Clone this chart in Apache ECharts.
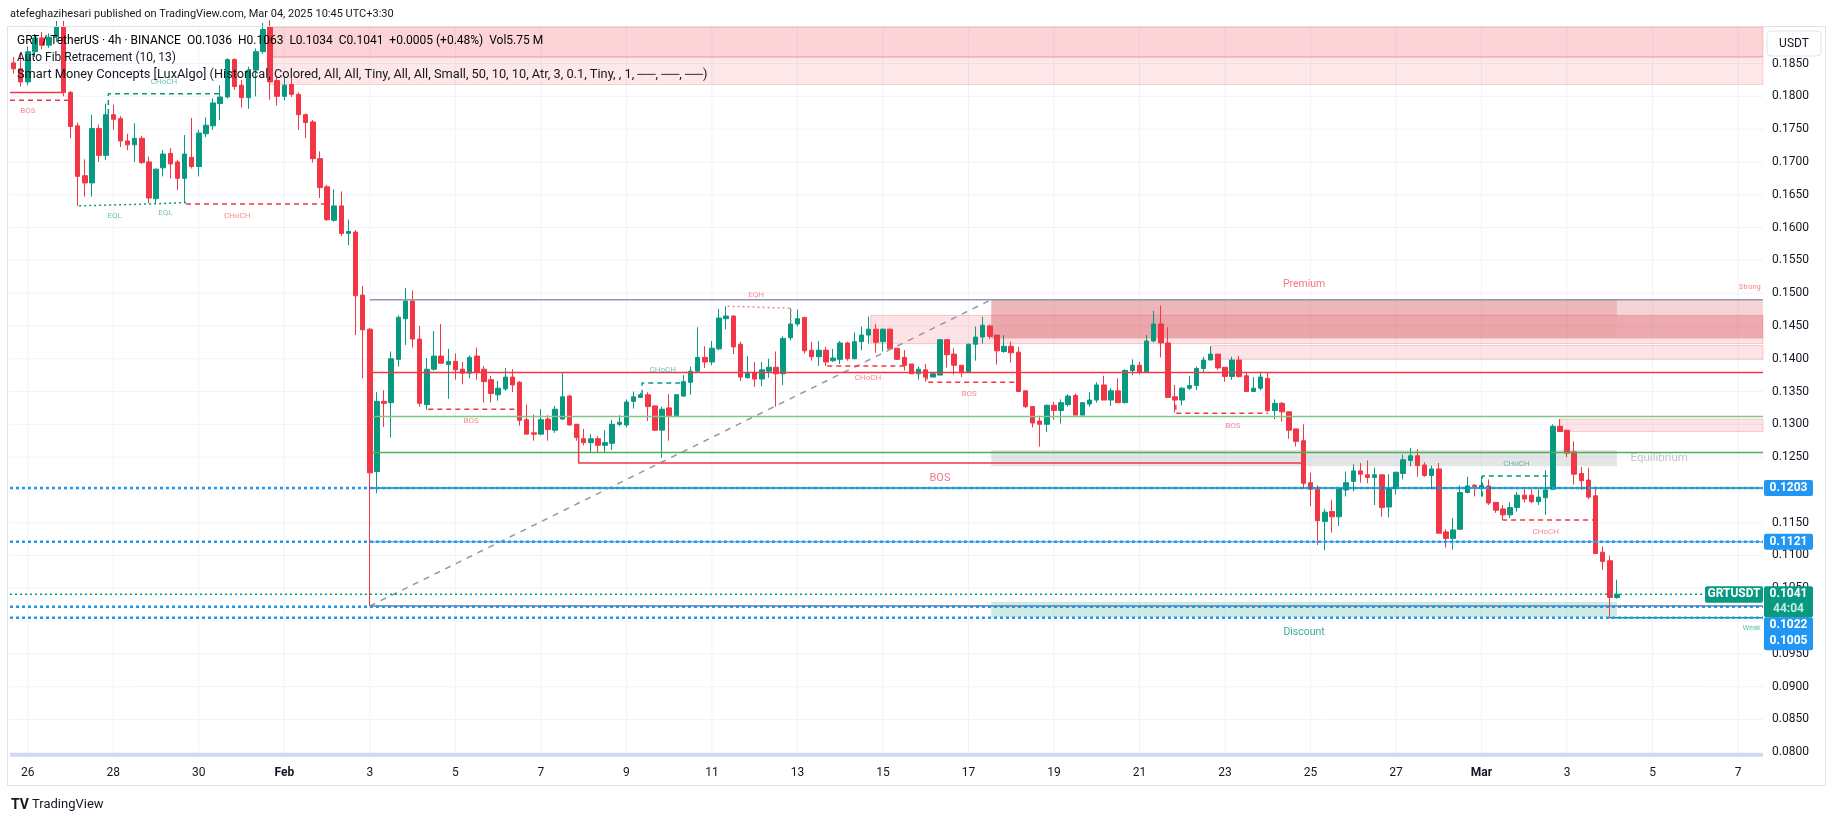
<!DOCTYPE html>
<html>
<head>
<meta charset="utf-8">
<script src="https://cdn.jsdelivr.net/npm/echarts@6/dist/echarts.min.js"></script>
<style>
  html, body { margin: 0; padding: 0; background: #fff; }
  #chart { width: 1835px; height: 821px; }
</style>
</head>
<body>
<div id="chart"></div>
<script>
const ohlc = [
  [0.1851,0.1860,0.1835,0.1842],[0.1842,0.1866,0.1815,0.1822],[0.1822,0.1876,0.1817,0.1868],[0.1868,0.1895,0.1860,0.1889],
  [0.1889,0.1898,0.1872,0.1878],[0.1878,0.1896,0.1874,0.1890],[0.1890,0.1915,0.1883,0.1906],[0.1906,0.1915,0.1800,0.1806],
  [0.1806,0.1808,0.1736,0.1754],[0.1755,0.1760,0.1633,0.1678],[0.1679,0.1704,0.1647,0.1668],[0.1668,0.1772,0.1647,0.1751],
  [0.1751,0.1757,0.1700,0.1710],[0.1710,0.1789,0.1703,0.1772],[0.1772,0.1787,0.1749,0.1765],[0.1766,0.1770,0.1723,0.1732],
  [0.1732,0.1743,0.1718,0.1726],[0.1726,0.1759,0.1700,0.1736],[0.1736,0.1740,0.1697,0.1699],[0.1700,0.1708,0.1637,0.1645],
  [0.1644,0.1690,0.1637,0.1689],[0.1691,0.1718,0.1678,0.1712],[0.1713,0.1721,0.1675,0.1697],[0.1700,0.1703,0.1657,0.1675],
  [0.1675,0.1741,0.1638,0.1712],[0.1707,0.1767,0.1690,0.1693],[0.1693,0.1749,0.1678,0.1744],[0.1743,0.1768,0.1738,0.1756],
  [0.1755,0.1797,0.1749,0.1790],[0.1789,0.1817,0.1764,0.1799],[0.1799,0.1858,0.1797,0.1856],[0.1856,0.1858,0.1810,0.1815],
  [0.1817,0.1825,0.1783,0.1798],[0.1798,0.1845,0.1781,0.1840],[0.1840,0.1873,0.1800,0.1868],[0.1868,0.1912,0.1865,0.1902],
  [0.1906,0.1916,0.1795,0.1822],[0.1824,0.1828,0.1786,0.1800],[0.1800,0.1830,0.1794,0.1817],[0.1818,0.1830,0.1799,0.1803],
  [0.1803,0.1806,0.1749,0.1772],[0.1772,0.1774,0.1736,0.1760],[0.1761,0.1764,0.1699,0.1705],[0.1705,0.1716,0.1645,0.1661],
  [0.1662,0.1665,0.1610,0.1612],[0.1611,0.1658,0.1609,0.1633],[0.1633,0.1655,0.1587,0.1591],[0.1591,0.1612,0.1573,0.1594],
  [0.1593,0.1596,0.1436,0.1496],[0.1497,0.1511,0.1370,0.1444],[0.1445,0.1447,0.1023,0.1226],[0.1228,0.1349,0.1195,0.1335],
  [0.1335,0.1352,0.1296,0.1332],[0.1333,0.1411,0.1280,0.1400],[0.1399,0.1466,0.1388,0.1463],[0.1461,0.1508,0.1421,0.1488],
  [0.1488,0.1504,0.1417,0.1430],[0.1430,0.1450,0.1327,0.1332],[0.1330,0.1401,0.1322,0.1384],[0.1384,0.1442,0.1382,0.1404],
  [0.1404,0.1453,0.1393,0.1393],[0.1391,0.1415,0.1339,0.1396],[0.1396,0.1408,0.1368,0.1383],[0.1384,0.1395,0.1361,0.1378],
  [0.1378,0.1405,0.1370,0.1402],[0.1404,0.1417,0.1368,0.1379],[0.1384,0.1389,0.1333,0.1365],[0.1368,0.1374,0.1333,0.1347],
  [0.1345,0.1366,0.1336,0.1355],[0.1354,0.1386,0.1351,0.1372],[0.1372,0.1384,0.1349,0.1360],[0.1364,0.1366,0.1298,0.1306],
  [0.1307,0.1330,0.1285,0.1285],[0.1287,0.1315,0.1275,0.1285],[0.1285,0.1323,0.1284,0.1307],[0.1308,0.1314,0.1275,0.1292],
  [0.1291,0.1328,0.1287,0.1323],[0.1308,0.1379,0.1307,0.1342],[0.1343,0.1345,0.1298,0.1299],[0.1300,0.1300,0.1275,0.1280],
  [0.1278,0.1293,0.1268,0.1272],[0.1272,0.1285,0.1257,0.1278],[0.1278,0.1282,0.1257,0.1268],[0.1268,0.1291,0.1258,0.1272],
  [0.1271,0.1307,0.1261,0.1300],[0.1300,0.1314,0.1297,0.1303],[0.1299,0.1338,0.1295,0.1334],[0.1335,0.1350,0.1324,0.1342],
  [0.1341,0.1348,0.1341,0.1345],[0.1345,0.1349,0.1305,0.1327],[0.1328,0.1329,0.1290,0.1291],[0.1291,0.1327,0.1249,0.1323],
  [0.1325,0.1346,0.1275,0.1313],[0.1313,0.1346,0.1311,0.1345],[0.1343,0.1375,0.1342,0.1365],[0.1364,0.1388,0.1345,0.1381],
  [0.1381,0.1448,0.1380,0.1402],[0.1402,0.1419,0.1386,0.1395],[0.1395,0.1427,0.1390,0.1416],[0.1415,0.1476,0.1413,0.1462],
  [0.1461,0.1480,0.1445,0.1465],[0.1465,0.1466,0.1407,0.1418],[0.1422,0.1426,0.1366,0.1372],[0.1371,0.1404,0.1370,0.1379],
  [0.1379,0.1395,0.1357,0.1369],[0.1369,0.1395,0.1358,0.1383],[0.1381,0.1400,0.1371,0.1387],[0.1387,0.1411,0.1327,0.1377],
  [0.1377,0.1434,0.1360,0.1431],[0.1432,0.1477,0.1428,0.1453],[0.1453,0.1475,0.1449,0.1461],[0.1463,0.1463,0.1408,0.1412],
  [0.1413,0.1426,0.1397,0.1403],[0.1403,0.1427,0.1389,0.1413],[0.1413,0.1418,0.1389,0.1395],[0.1397,0.1415,0.1395,0.1401],
  [0.1399,0.1427,0.1392,0.1424],[0.1424,0.1426,0.1397,0.1400],[0.1400,0.1440,0.1399,0.1426],[0.1426,0.1449,0.1413,0.1436],
  [0.1436,0.1464,0.1423,0.1445],[0.1445,0.1453,0.1409,0.1425],[0.1426,0.1446,0.1411,0.1445],[0.1445,0.1446,0.1413,0.1415],
  [0.1416,0.1416,0.1398,0.1399],[0.1402,0.1413,0.1382,0.1390],[0.1392,0.1392,0.1377,0.1377],[0.1377,0.1388,0.1368,0.1384],
  [0.1383,0.1392,0.1365,0.1372],[0.1372,0.1379,0.1372,0.1377],[0.1375,0.1430,0.1375,0.1429],[0.1429,0.1430,0.1386,0.1406],
  [0.1407,0.1416,0.1376,0.1390],[0.1390,0.1390,0.1372,0.1380],[0.1380,0.1423,0.1379,0.1422],[0.1422,0.1449,0.1397,0.1433],
  [0.1433,0.1464,0.1423,0.1451],[0.1450,0.1452,0.1430,0.1434],[0.1436,0.1436,0.1391,0.1412],[0.1411,0.1436,0.1409,0.1419],
  [0.1419,0.1426,0.1394,0.1409],[0.1410,0.1418,0.1350,0.1350],[0.1351,0.1351,0.1325,0.1327],[0.1327,0.1328,0.1295,0.1302],
  [0.1305,0.1313,0.1266,0.1300],[0.1300,0.1330,0.1288,0.1329],[0.1329,0.1334,0.1307,0.1321],[0.1321,0.1338,0.1301,0.1333],
  [0.1330,0.1346,0.1327,0.1343],[0.1344,0.1347,0.1314,0.1314],[0.1314,0.1333,0.1314,0.1333],[0.1331,0.1349,0.1327,0.1337],
  [0.1337,0.1364,0.1333,0.1360],[0.1360,0.1374,0.1337,0.1337],[0.1337,0.1355,0.1328,0.1351],[0.1351,0.1370,0.1333,0.1333],
  [0.1333,0.1384,0.1332,0.1382],[0.1382,0.1399,0.1375,0.1390],[0.1390,0.1395,0.1376,0.1380],[0.1380,0.1436,0.1379,0.1427],
  [0.1427,0.1473,0.1425,0.1453],[0.1453,0.1481,0.1402,0.1424],[0.1424,0.1448,0.1341,0.1341],[0.1342,0.1360,0.1318,0.1337],
  [0.1337,0.1357,0.1329,0.1355],[0.1355,0.1374,0.1352,0.1359],[0.1359,0.1388,0.1352,0.1385],[0.1385,0.1403,0.1380,0.1398],
  [0.1398,0.1419,0.1398,0.1407],[0.1407,0.1407,0.1383,0.1386],[0.1387,0.1387,0.1365,0.1373],[0.1373,0.1403,0.1368,0.1398],
  [0.1398,0.1404,0.1371,0.1373],[0.1374,0.1379,0.1350,0.1350],[0.1350,0.1372,0.1350,0.1355],[0.1355,0.1380,0.1352,0.1372],
  [0.1370,0.1379,0.1319,0.1321],[0.1321,0.1338,0.1308,0.1332],[0.1332,0.1334,0.1304,0.1319],[0.1319,0.1319,0.1278,0.1291],
  [0.1293,0.1293,0.1266,0.1274],[0.1275,0.1300,0.1202,0.1210],[0.1211,0.1226,0.1175,0.1201],[0.1201,0.1207,0.1116,0.1153],
  [0.1152,0.1171,0.1108,0.1166],[0.1167,0.1185,0.1135,0.1159],[0.1159,0.1202,0.1145,0.1202],[0.1200,0.1228,0.1190,0.1211],
  [0.1213,0.1239,0.1198,0.1229],[0.1229,0.1241,0.1211,0.1224],[0.1223,0.1245,0.1210,0.1219],[0.1219,0.1234,0.1177,0.1223],
  [0.1223,0.1223,0.1159,0.1173],[0.1174,0.1224,0.1158,0.1202],[0.1202,0.1227,0.1193,0.1227],[0.1225,0.1254,0.1216,0.1246],
  [0.1245,0.1264,0.1236,0.1252],[0.1252,0.1262,0.1220,0.1237],[0.1238,0.1242,0.1220,0.1222],[0.1222,0.1237,0.1201,0.1232],
  [0.1232,0.1241,0.1134,0.1134],[0.1136,0.1140,0.1112,0.1126],[0.1126,0.1157,0.1109,0.1139],[0.1140,0.1207,0.1139,0.1196],
  [0.1196,0.1220,0.1195,0.1206],[0.1207,0.1209,0.1190,0.1205],[0.1202,0.1221,0.1190,0.1207],[0.1206,0.1216,0.1177,0.1180],
  [0.1181,0.1181,0.1165,0.1169],[0.1171,0.1177,0.1154,0.1162],[0.1162,0.1181,0.1157,0.1173],[0.1173,0.1197,0.1167,0.1192],
  [0.1192,0.1201,0.1181,0.1186],[0.1192,0.1201,0.1180,0.1182],[0.1182,0.1201,0.1177,0.1189],[0.1188,0.1230,0.1162,0.1200],
  [0.1201,0.1300,0.1200,0.1297],[0.1297,0.1308,0.1289,0.1289],[0.1291,0.1291,0.1250,0.1256],[0.1258,0.1274,0.1208,0.1224],
  [0.1225,0.1235,0.1200,0.1214],[0.1215,0.1234,0.1186,0.1189],[0.1191,0.1205,0.1103,0.1103],[0.1105,0.1114,0.1078,0.1091],
  [0.1092,0.1100,0.1005,0.1036],[0.1036,0.1063,0.1034,0.1041]
];

// time axis: 246 bar slots, first label on slot 2, one label every 2 days (12 bars)
const slotCount = 246;
const firstLabelSlot = 2;
const slotsPerLabel = 12;
const xTickLabels = ['26','28','30','Feb','3','5','7','9','11','13','15','17','19','21','23','25','27','Mar','3','5','7'];
const monthLabels = ['Feb', 'Mar'];
const priceTicks = [0.0800,0.0850,0.0900,0.0950,0.1000,0.1050,0.1100,0.1150,0.1200,0.1250,0.1300,
                    0.1350,0.1400,0.1450,0.1500,0.1550,0.1600,0.1650,0.1700,0.1750,0.1800,0.1850];
const priceMin = 0.07928, priceMax = 0.19057;

// price lines with tags on the scale
const bluePriceLines = [0.1203, 0.1121, 0.1022, 0.1005];
const lastPrice = 0.1041;

// Smart Money Concepts drawings, [slot, price] points
const solidRedLines = [
  [[-0.5, 0.1806], [6.9, 0.1806]],
  [[50.4, 0.1379], [245.5, 0.1379]],
  [[79.3, 0.1300], [79.3, 0.1241], [180.8, 0.1241]]
];
const dashedRedLines = [
  [[-0.5, 0.1794], [7.9, 0.1794]],
  [[24.2, 0.1636], [44.4, 0.1636]],
  [[58.2, 0.1323], [70.8, 0.1323]],
  [[114.2, 0.1389], [125.5, 0.1389]],
  [[128.2, 0.1376], [128.2, 0.1364], [140.8, 0.1364]],
  [[163.1, 0.1330], [163.1, 0.1317], [176.0, 0.1317]],
  [[209.0, 0.1169], [209.0, 0.1154], [221.8, 0.1154]]
];
const dashedTealLines = [
  [[13.3, 0.1773], [13.3, 0.1804], [29.3, 0.1804]],
  [[88.2, 0.1345], [88.2, 0.1363], [93.6, 0.1363]],
  [[206.1, 0.1190], [206.1, 0.1221], [215.9, 0.1221]]
];
const eqlLine = [[9.2, 0.1633], [19.4, 0.1636], [24.2, 0.1638]];
const eqhLine = [[100.2, 0.1480], [109.1, 0.1477], [109.1, 0.1456]];
const trailingTop = [[50, 0.1490], [245.5, 0.1490]];
const lightGreenLine = [[50.4, 0.1312], [245.5, 0.1312]];
const greenLine = [[50.4, 0.1257], [245.5, 0.1257]];
const tealLine = [[50, 0.1203], [245.5, 0.1203]];
const lightBlueLine = [[50, 0.1121], [245.5, 0.1121]];
const grayLine = [[50, 0.1023], [245.5, 0.1023]];
const weakLowLine = [[224, 0.1005], [245.5, 0.1005]];
const fibTrend = [[50, 0.1023], [137.2, 0.1490]];

// zones: [fromSlot, toSlot, lowPrice, highPrice]
const supplyTop = [35.9, 245.5, 0.1860, 0.1920];
const supplyTopLower = [35.9, 245.5, 0.1818, 0.1860];
const premiumZone = [137.2, 225, 0.1431, 0.1490];
const orderBlock1 = [120.3, 245.5, 0.1423, 0.1466];
const orderBlock1Right = [225, 245.5, 0.1431, 0.1466];
const strongHighZone = [225, 245.5, 0.1466, 0.1490];
const orderBlock2 = [168.1, 245.5, 0.1399, 0.1420];
const orderBlock3 = [217.0, 245.5, 0.1289, 0.1308];
const equilibriumZone = [137.2, 225, 0.1236, 0.1261];
const discountZone = [137.2, 225, 0.1006, 0.1029];
const bottomBand = [-0.5, 245.5, 0.0793, 0.0799];

// text marks: [slot, price, text]
const redTags = [[2.0,0.1778,'BOS'],[31.4,0.1618,'CHoCH'],[64.2,0.1305,'BOS'],[104.2,0.1497,'EQH'],
                 [119.9,0.1371,'CHoCH'],[134.1,0.1346,'BOS'],[171.1,0.1298,'BOS'],[215.0,0.1136,'CHoCH']];
const tealTags = [[14.2,0.1618,'EQL'],[21.3,0.1622,'EQL'],[21.1,0.1822,'CHoCH'],[91.1,0.1383,'CHoCH'],[210.9,0.1240,'CHoCH']];
const bigBos = [130.0, 0.1217, 'BOS'];
const premiumText = [181.1, 0.1513, 'Premium'];
const discountText = [181.1, 0.0983, 'Discount'];
const equilibriumText = [226.7, 0.1249, 'Equilibrium'];
const strongText = [245.4, 0.1509, 'Strong'];
const weakText = [245.4, 0.0989, 'Weak'];

const UP = '#089981', DOWN = '#f23645';
const FONT = 'Roboto, "Noto Sans", sans-serif';
const LEFT_EDGE = -0.5, RIGHT_EDGE = slotCount - 0.5;

const chart = echarts.init(document.getElementById('chart'));

const categories = Array.from({ length: slotCount }, (_, i) => String(i));
const isLabelSlot = i => i >= firstLabelSlot && (i - firstLabelSlot) % slotsPerLabel === 0;
const labelSlots = xTickLabels.map((_, k) => firstLabelSlot + k * slotsPerLabel);

function lineSeries(points, color, width, type, z) {
  return {
    type: 'line', xAxisIndex: 1, yAxisIndex: 0, data: points, symbol: 'none',
    silent: true, animation: false, z: z == null ? 4 : z,
    lineStyle: { color, width, type }
  };
}

function zone(z, color, border) {
  return [
    { coord: [z[0], z[3]], itemStyle: { color, borderColor: border || 'transparent', borderWidth: border ? 1 : 0 } },
    { coord: [z[1], z[2]] }
  ];
}

function textSeries(items, color, size, pos) {
  return {
    type: 'scatter', xAxisIndex: 1, yAxisIndex: 0, silent: true, animation: false, z: 6,
    symbolSize: 1, itemStyle: { color: 'rgba(0,0,0,0)' },
    data: items.map(t => ({ value: [t[0], t[1]], name: t[2] })),
    label: {
      show: true, position: pos || 'inside', distance: 1,
      formatter: p => p.name, color, fontSize: size, fontFamily: FONT
    }
  };
}

const gridLines = priceTicks.map(v => lineSeries([[LEFT_EDGE, v], [RIGHT_EDGE, v]], '#f0f3fa', 1, 'solid', 0))
  .concat(labelSlots.map(s => lineSeries([[s, priceMin], [s, priceMax]], '#f0f3fa', 1, 'solid', 0)));

const series = [
  ...gridLines,
  // zones
  {
    type: 'line', xAxisIndex: 1, yAxisIndex: 0, data: [[-10, 0]], symbol: 'none', silent: true, z: 1,
    markArea: {
      silent: true, animation: false, label: { show: false },
      data: [
        zone(supplyTop, 'rgba(242,54,69,0.22)', 'rgba(242,54,69,0.25)'),
        zone(supplyTopLower, 'rgba(242,54,69,0.12)', 'rgba(242,54,69,0.2)'),
        zone(orderBlock1, 'rgba(242,54,69,0.14)', 'rgba(242,54,69,0.25)'),
        zone(premiumZone, 'rgba(205,55,65,0.36)'),
        zone(orderBlock1Right, 'rgba(205,55,65,0.33)'),
        zone(strongHighZone, 'rgba(215,55,65,0.22)'),
        zone(orderBlock2, 'rgba(242,54,69,0.13)', 'rgba(242,54,69,0.22)'),
        zone(orderBlock3, 'rgba(242,54,69,0.13)', 'rgba(242,54,69,0.22)'),
        zone(equilibriumZone, 'rgba(120,123,134,0.2)'),
        zone(discountZone, 'rgba(8,153,129,0.2)'),
        zone(bottomBand, '#cfd8f5')
      ]
    }
  },
  // candles
  {
    type: 'candlestick', xAxisIndex: 0, yAxisIndex: 0, silent: true, animation: false, z: 3,
    barWidth: 5,
    data: ohlc.map(([o, h, l, c]) => [o, c, l, h]),
    itemStyle: { color: UP, color0: DOWN, borderColor: UP, borderColor0: DOWN, borderWidth: 1 }
  },
  lineSeries(trailingTop, '#8f95b2', 1.5, 'solid'),
  lineSeries(lightGreenLine, '#81c784', 1.5, 'solid'),
  lineSeries(greenLine, '#4caf50', 1.5, 'solid'),
  lineSeries(tealLine, '#00897b', 1.5, 'solid'),
  lineSeries(lightBlueLine, '#64b5f6', 1.5, 'solid'),
  lineSeries(grayLine, '#787b86', 1.5, 'solid'),
  lineSeries(weakLowLine, '#089981', 1.5, 'solid'),
  lineSeries(fibTrend, '#9598a1', 1.5, [6, 6]),
  lineSeries(eqlLine, '#089981', 1.5, [2, 3]),
  lineSeries(eqhLine, '#f7828c', 1.5, [2, 3]),
  ...solidRedLines.map(p => lineSeries(p, DOWN, 1.5, 'solid')),
  ...dashedRedLines.map(p => lineSeries(p, DOWN, 1.5, [5, 4])),
  ...dashedTealLines.map(p => lineSeries(p, UP, 1.5, [5, 4])),
  // horizontal price lines across the whole pane
  ...bluePriceLines.map(v => lineSeries([[LEFT_EDGE, v], [RIGHT_EDGE, v]], '#2196f3', 2.5, [3, 3], 5)),
  lineSeries([[LEFT_EDGE, lastPrice], [RIGHT_EDGE, lastPrice]], UP, 1.5, [2, 3], 5),
  textSeries(redTags, 'rgba(242,54,69,0.75)', 8),
  textSeries(tealTags, 'rgba(8,153,129,0.75)', 8),
  textSeries([bigBos], 'rgba(242,54,69,0.85)', 11),
  textSeries([premiumText], 'rgba(242,54,69,0.85)', 10.5),
  textSeries([discountText], UP, 10.5),
  textSeries([equilibriumText], '#b2b5be', 11.5, 'right'),
  textSeries([strongText], 'rgba(242,54,69,0.8)', 7.5, 'left'),
  textSeries([weakText], 'rgba(8,153,129,0.8)', 7.5, 'left')
];

chart.setOption({
  animation: false,
  backgroundColor: '#ffffff',
  grid: { left: 10, right: 72, top: 27, bottom: 64 },
  xAxis: [
    {
      type: 'category', data: categories, boundaryGap: true,
      axisLine: { show: false }, axisTick: { show: false }, splitLine: { show: false },
      axisLabel: {
        interval: (i) => isLabelSlot(i),
        margin: 10, color: '#131722', fontSize: 12, fontFamily: FONT,
        formatter: (v) => {
          const s = Number(v);
          if (!isLabelSlot(s)) return '';
          const t = xTickLabels[(s - firstLabelSlot) / slotsPerLabel] || '';
          return monthLabels.includes(t) ? '{m|' + t + '}' : t;
        },
        rich: { m: { fontWeight: 'bold', fontSize: 12, color: '#131722', fontFamily: FONT } }
      }
    },
    { type: 'value', min: LEFT_EDGE, max: RIGHT_EDGE, show: false }
  ],
  yAxis: [{
    type: 'value', position: 'right', min: priceMin, max: priceMax, scale: true,
    axisLine: { show: false },
    axisTick: { show: false, customValues: priceTicks },
    splitLine: { show: false },
    axisLabel: {
      customValues: priceTicks, margin: 9, color: '#131722', fontSize: 12, fontFamily: FONT,
      formatter: v => v.toFixed(4)
    }
  }],
  series
});

// tags on the price scale and the page furniture
const py = v => chart.convertToPixel({ yAxisIndex: 0 }, v);
const tagX = 1764, tagW = 49, tagH = 16;
const g = [];
function box(x, y, w, h, fill, z) {
  g.push({ type: 'rect', z: z || 100, shape: { x, y, width: w, height: h, r: 2 }, style: { fill } });
}
function txt(x, y, text, font, fill, align, z) {
  g.push({ type: 'text', z: z || 101, x, y,
    style: { text, font, fill, align: align || 'left', textAlign: align || 'left', verticalAlign: 'middle', textVerticalAlign: 'middle' } });
}
// blue tags that sit on their own line
[bluePriceLines[0], bluePriceLines[1]].forEach(v => {
  const y = py(v);
  box(tagX, y - tagH / 2, tagW, tagH, '#2196f3');
  txt(tagX + tagW / 2, y, v.toFixed(4), 'bold 12px ' + FONT, '#ffffff', 'center');
});
// last price tag with countdown, the two lower tags stacked under it
const yLast = py(lastPrice);
const lastTop = yLast - 8;
box(tagX, lastTop, tagW, 31, UP);
txt(tagX + tagW / 2, yLast, lastPrice.toFixed(4), 'bold 12px ' + FONT, '#ffffff', 'center');
txt(tagX + tagW / 2, yLast + 15, '44:04', 'bold 12px ' + FONT, '#c8ece4', 'center');
box(1705, lastTop, 58, 16.5, UP);
txt(1734, yLast, 'GRTUSDT', 'bold 12px ' + FONT, '#ffffff', 'center');
box(tagX, lastTop + 31, tagW, 33, '#2196f3');
txt(tagX + tagW / 2, lastTop + 39, bluePriceLines[2].toFixed(4), 'bold 12px ' + FONT, '#ffffff', 'center');
txt(tagX + tagW / 2, lastTop + 55, bluePriceLines[3].toFixed(4), 'bold 12px ' + FONT, '#ffffff', 'center');
// currency box
g.push({ type: 'rect', z: 100, shape: { x: 1767, y: 31, width: 54, height: 25, r: 4 },
  style: { fill: '#ffffff', stroke: '#e0e3eb', lineWidth: 1 } });
txt(1794, 44, 'USDT', '12px ' + FONT, '#131722', 'center');
// outer frame
g.push({ type: 'rect', z: 90, shape: { x: 7.5, y: 26.5, width: 1818, height: 759 },
  style: { fill: 'none', stroke: '#e0e3eb', lineWidth: 1 } });
// header and legend
txt(10, 14, 'atefeghazihesari published on TradingView.com, Mar 04, 2025 10:45 UTC+3:30', '11px ' + FONT, '#131722');
g.push({ type: 'text', z: 101, x: 17, y: 41,
  style: {
    text: '{d|GRT / TetherUS · 4h · BINANCE  O}{v|0.1036}{d|  H}{v|0.1063}{d|  L}{v|0.1034}{d|  C}{v|0.1041}{v|  +0.0005 (+0.48%)}{d|  Vol}{v|5.75 M}',
    verticalAlign: 'middle', textVerticalAlign: 'middle',
    rich: {
      d: { color: '#131722', fontSize: 12, fontFamily: FONT },
      v: { color: UP, fontSize: 12, fontFamily: FONT }
    }
  } });
txt(17, 57.5, 'Auto Fib Retracement (10, 13)', '12px ' + FONT, '#131722');
txt(17, 75, 'Smart Money Concepts [LuxAlgo] (Historical, Colored, All, All, Tiny, All, All, Small, 50, 10, 10, Atr, 3, 0.1, Tiny, , 1, \u2500\u2500, \u2500\u2500, \u2500\u2500)', '12.8px ' + FONT, '#131722');
// footer logo
txt(11, 805, 'TV', 'bold 14px ' + FONT, '#131722');
txt(32, 805, 'TradingView', '13px ' + FONT, '#131722');

chart.setOption({ graphic: { elements: g } });
</script>
</body>
</html>
